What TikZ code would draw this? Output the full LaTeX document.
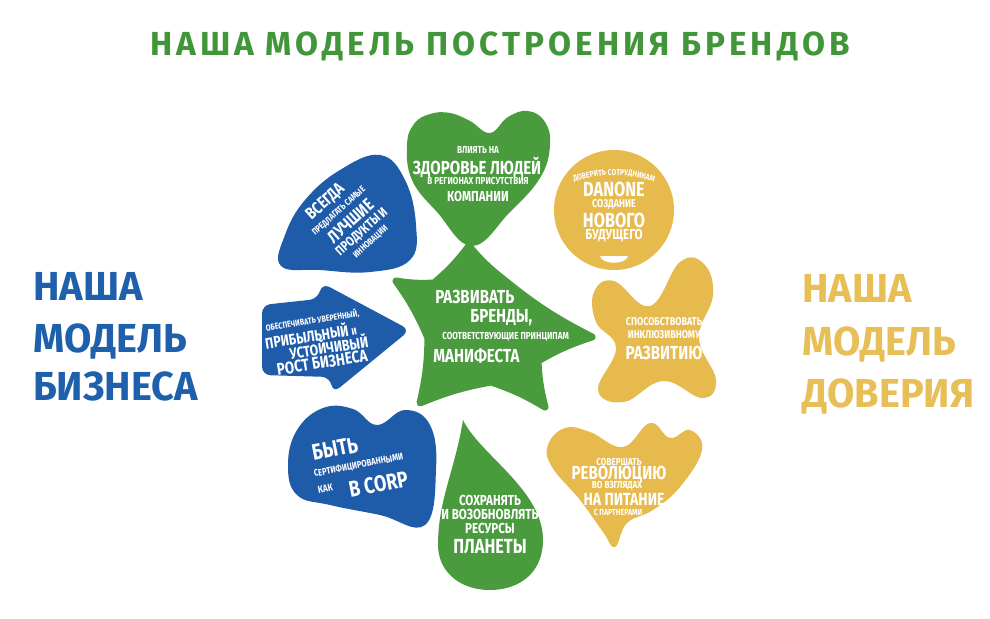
\documentclass[tikz,border=0pt]{standalone}
\usepackage{fontspec}
\usetikzlibrary{decorations.text}
\newfontfamily\brand{Fira Sans}[FakeStretch=0.8]
\newfontfamily\brandside{Fira Sans}[FakeStretch=0.98]
\newfontfamily\brandtitle{Fira Sans}[LetterSpace=12]
\newcommand{\fsz}[1]{\fontsize{#1}{#1}\selectfont}
\definecolor{dgreen}{RGB}{74,155,62}
\definecolor{tgreen}{RGB}{64,150,56}
\definecolor{dblue}{RGB}{30,92,170}
\definecolor{sblue}{RGB}{31,96,172}
\definecolor{dyellow}{RGB}{231,186,78}
\definecolor{syellow}{RGB}{232,190,86}
\tikzset{
  lbig/.style={text=white, inner sep=0pt, font=\brand\bfseries\fsz{13.4}},
  lmid/.style={text=white, inner sep=0pt, font=\brand\bfseries\fsz{10.3}},
  lsmall/.style={text=white, inner sep=0pt, font=\brand\bfseries\fsz{7.2}},
  side/.style={inner sep=0pt, anchor=base west, font=\brandside\bfseries\fsz{28.8}},
}
\begin{document}
\begin{tikzpicture}[x=0.025cm, y=-0.025cm]
  \useasboundingbox (0,0) rectangle (990,618);
  \fill[white] (0,0) rectangle (990,618);

  % title and side labels
  \node[inner sep=0pt, text=tgreen, font=\brandtitle\bfseries\fsz{23.7}] (title) at (500,46) {НАША МОДЕЛЬ ПОСТРОЕНИЯ БРЕНДОВ};
  \node[side, text=sblue] (bizA) at (33,300) {НАША};
  \node[side, text=sblue] (bizB) at (33,352) {МОДЕЛЬ};
  \node[side, text=sblue] (bizC) at (33,400) {БИЗНЕСА};
  \node[side, text=syellow] (trustA) at (802,302) {НАША};
  \node[side, text=syellow] (trustB) at (802,355) {МОДЕЛЬ};
  \node[side, text=syellow] (trustC) at (802,407) {ДОВЕРИЯ};

  % shapes
  \fill[dblue] plot[smooth cycle, tension=0.7] coordinates {(380,155) (405,180) (416,225) (410,260) (370,272) (320,270) (281,266) (285,235) (305,200) (340,170)};
  \fill[dblue, rounded corners=6pt] (262,305) -- (318,299) -- (322,283) -- (410,330) -- (333,393) -- (330,377) -- (262,375) -- cycle;
  \fill[dblue] plot[smooth cycle, tension=0.7] coordinates {(323,408) (353,409) (377,425) (405,410) (430,425) (436,470) (425,525) (380,515) (330,505) (297,495) (288,465) (297,430)};
  \fill[dgreen] plot[smooth cycle, tension=0.7] coordinates {(407,145) (414,124) (430,114) (450,113) (470,121) (490,133) (508,117) (528,111) (545,122) (550,146) (540,178) (510,212) (472,246) (437,212) (412,180)};
  \fill[dyellow] (614,210) circle[radius=60];
  \fill[white] (600,256) .. controls (602,265) and (626,265) .. (628,256) -- cycle;
  \filldraw[dgreen, line width=5pt, line join=round] (396,281) to[bend right=6] (434,283) to[bend right=6] (469,246)
    to[bend right=6] (503,279) to[bend right=6] (592,337) to[bend right=6] (538,361) to[bend right=6] (545,407)
    to[bend right=6] (491,382) to[bend right=6] (420,403) to[bend right=6] (428,338) to[bend right=6] cycle;
  \fill[dyellow] plot[smooth cycle, tension=0.7] coordinates {(594,292) (614,281) (650,306) (680,262) (704,264) (713,295) (699,338) (716,380) (702,398) (663,381) (624,402) (598,390) (616,348) (596,322)};
  \fill[dyellow] plot[smooth cycle, tension=0.7] coordinates {(548,445) (565,428) (590,432) (623,447) (650,423) (670,438) (690,430) (702,450) (680,487) (653,510) (627,523) (615,547) (603,532) (580,500) (552,467)};
  \fill[dgreen] (463,420) .. controls (480,455) and (543,490) .. (543,540) .. controls (543,572) and (520,590) .. (490,590) .. controls (458,590) and (438,570) .. (438,545) .. controls (438,500) and (455,470) .. (463,420) -- cycle;

  % blue: products
  \begin{scope}[shift={(354,222)}, rotate=42]
    \node[lbig, font=\brand\bfseries\fsz{12}, transform shape] (prodA) at (-8,-34) {ВСЕГДА};
    \node[lsmall, font=\brand\bfseries\fsz{6.5}, transform shape] (prodB) at (-4,-18) {ПРЕДЛАГАТЬ САМЫЕ};
    \node[lbig, font=\brand\bfseries\fsz{12.5}, transform shape] (prodC) at (-2,-3) {ЛУЧШИЕ};
    \node[lmid, font=\brand\bfseries\fsz{9.5}, transform shape] (prodD) at (-1,13) {ПРОДУКТЫ И};
    \node[lsmall, font=\brand\bfseries\fsz{6.5}, transform shape] (prodE) at (-1,26) {ИННОВАЦИИ};
  \end{scope}

  % blue: growth
  \begin{scope}[shift={(318,343)}, rotate=9]
    \node[lsmall, font=\brand\bfseries\fsz{6.3}, transform shape] (growA) at (-2,-23) {ОБЕСПЕЧИВАТЬ УВЕРЕННЫЙ,};
    \node[lbig, font=\brand\bfseries\fsz{11}, transform shape] (growB) at (-6,-9) {ПРИБЫЛЬНЫЙ {\fsz{7}И}};
    \node[lbig, font=\brand\bfseries\fsz{11}, transform shape] (growC) at (10,5) {УСТОЙЧИВЫЙ};
    \node[lbig, font=\brand\bfseries\fsz{12}, transform shape] (growD) at (1,20) {РОСТ БИЗНЕСА};
  \end{scope}

  % blue: corp
  \begin{scope}[shift={(357,468)}, rotate=11]
    \node[lbig, font=\brand\bfseries\fsz{16}, transform shape] (corpA) at (-18,-23) {БЫТЬ};
    \node[lsmall, font=\brand\bfseries\fsz{6.8}, transform shape] (corpB) at (2,-2) {СЕРТИФИЦИРОВАННЫМИ};
    \node[lsmall, transform shape] (corpC) at (-35,14) {КАК};
    \node[lbig, font=\brand\bfseries\fsz{16}, transform shape] (corpD) at (18,20) {В CORP};
  \end{scope}

  % green heart
  \node[lsmall] (healthA) at (478,150) {ВЛИЯТЬ НА};
  \node[lbig] (healthB) at (477,167) {ЗДОРОВЬЕ ЛЮДЕЙ};
  \node[lsmall] (healthC) at (478,181) {В РЕГИОНАХ ПРИСУТСТВИЯ};
  \node[lmid] (healthD) at (478,196) {КОМПАНИИ};

  % yellow circle
  \path[decorate, decoration={text along path, text align=center, text color=white,
    text={|\brand\bfseries\fsz{6}|ДОВЕРИТЬ СОТРУДНИКАМ}}]
    (614,293) ++(-115:118) arc[start angle=-115, end angle=-65, radius=118];
  \node[lbig, font=\brand\bfseries\fsz{14.5}] (futureA) at (614,189) {DANONE};
  \node[lsmall, font=\brand\bfseries\fsz{8}] (futureB) at (614,204) {СОЗДАНИЕ};
  \node[lbig, font=\brand\bfseries\fsz{14.5}] (futureC) at (614,220) {НОВОГО};
  \node[lmid] (futureD) at (614,236) {БУДУЩЕГО};

  % star
  \node[lbig, anchor=west] (brandA) at (435,297) {РАЗВИВАТЬ};
  \node[lbig, anchor=west] (brandB) at (470,318) {БРЕНДЫ,};
  \node[lsmall, anchor=west] (brandC) at (442,337) {СООТВЕТСТВУЮЩИЕ ПРИНЦИПАМ};
  \node[lbig, anchor=west] (brandD) at (433,356) {МАНИФЕСТА};

  % yellow X
  \node[lsmall, font=\brand\bfseries\fsz{8}] (inclA) at (664,322) {СПОСОБСТВОВАТЬ};
  \node[lsmall, font=\brand\bfseries\fsz{8}] (inclB) at (664,335) {ИНКЛЮЗИВНОМУ};
  \node[lbig] (inclC) at (664,353) {РАЗВИТИЮ};

  % yellow W
  \node[lsmall] (foodA) at (619,462) {СОВЕРШАТЬ};
  \node[lbig] (foodB) at (619,474) {РЕВОЛЮЦИЮ};
  \node[lsmall] (foodC) at (617,486) {ВО ВЗГЛЯДАХ};
  \node[lbig, font=\brand\bfseries\fsz{12.5}] (foodD) at (624,499) {НА ПИТАНИЕ};
  \node[lsmall, font=\brand\bfseries\fsz{6.2}] (foodE) at (618,512) {С ПАРТНЕРАМИ};

  % green drop
  \node[lmid] (planetA) at (490,500) {СОХРАНЯТЬ};
  \node[lmid] (planetB) at (490,514) {И ВОЗОБНОВЛЯТЬ};
  \node[lmid] (planetC) at (490,528) {РЕСУРСЫ};
  \node[lbig, font=\brand\bfseries\fsz{14.5}] (planetD) at (490,547) {ПЛАНЕТЫ};
\end{tikzpicture}
\end{document}
